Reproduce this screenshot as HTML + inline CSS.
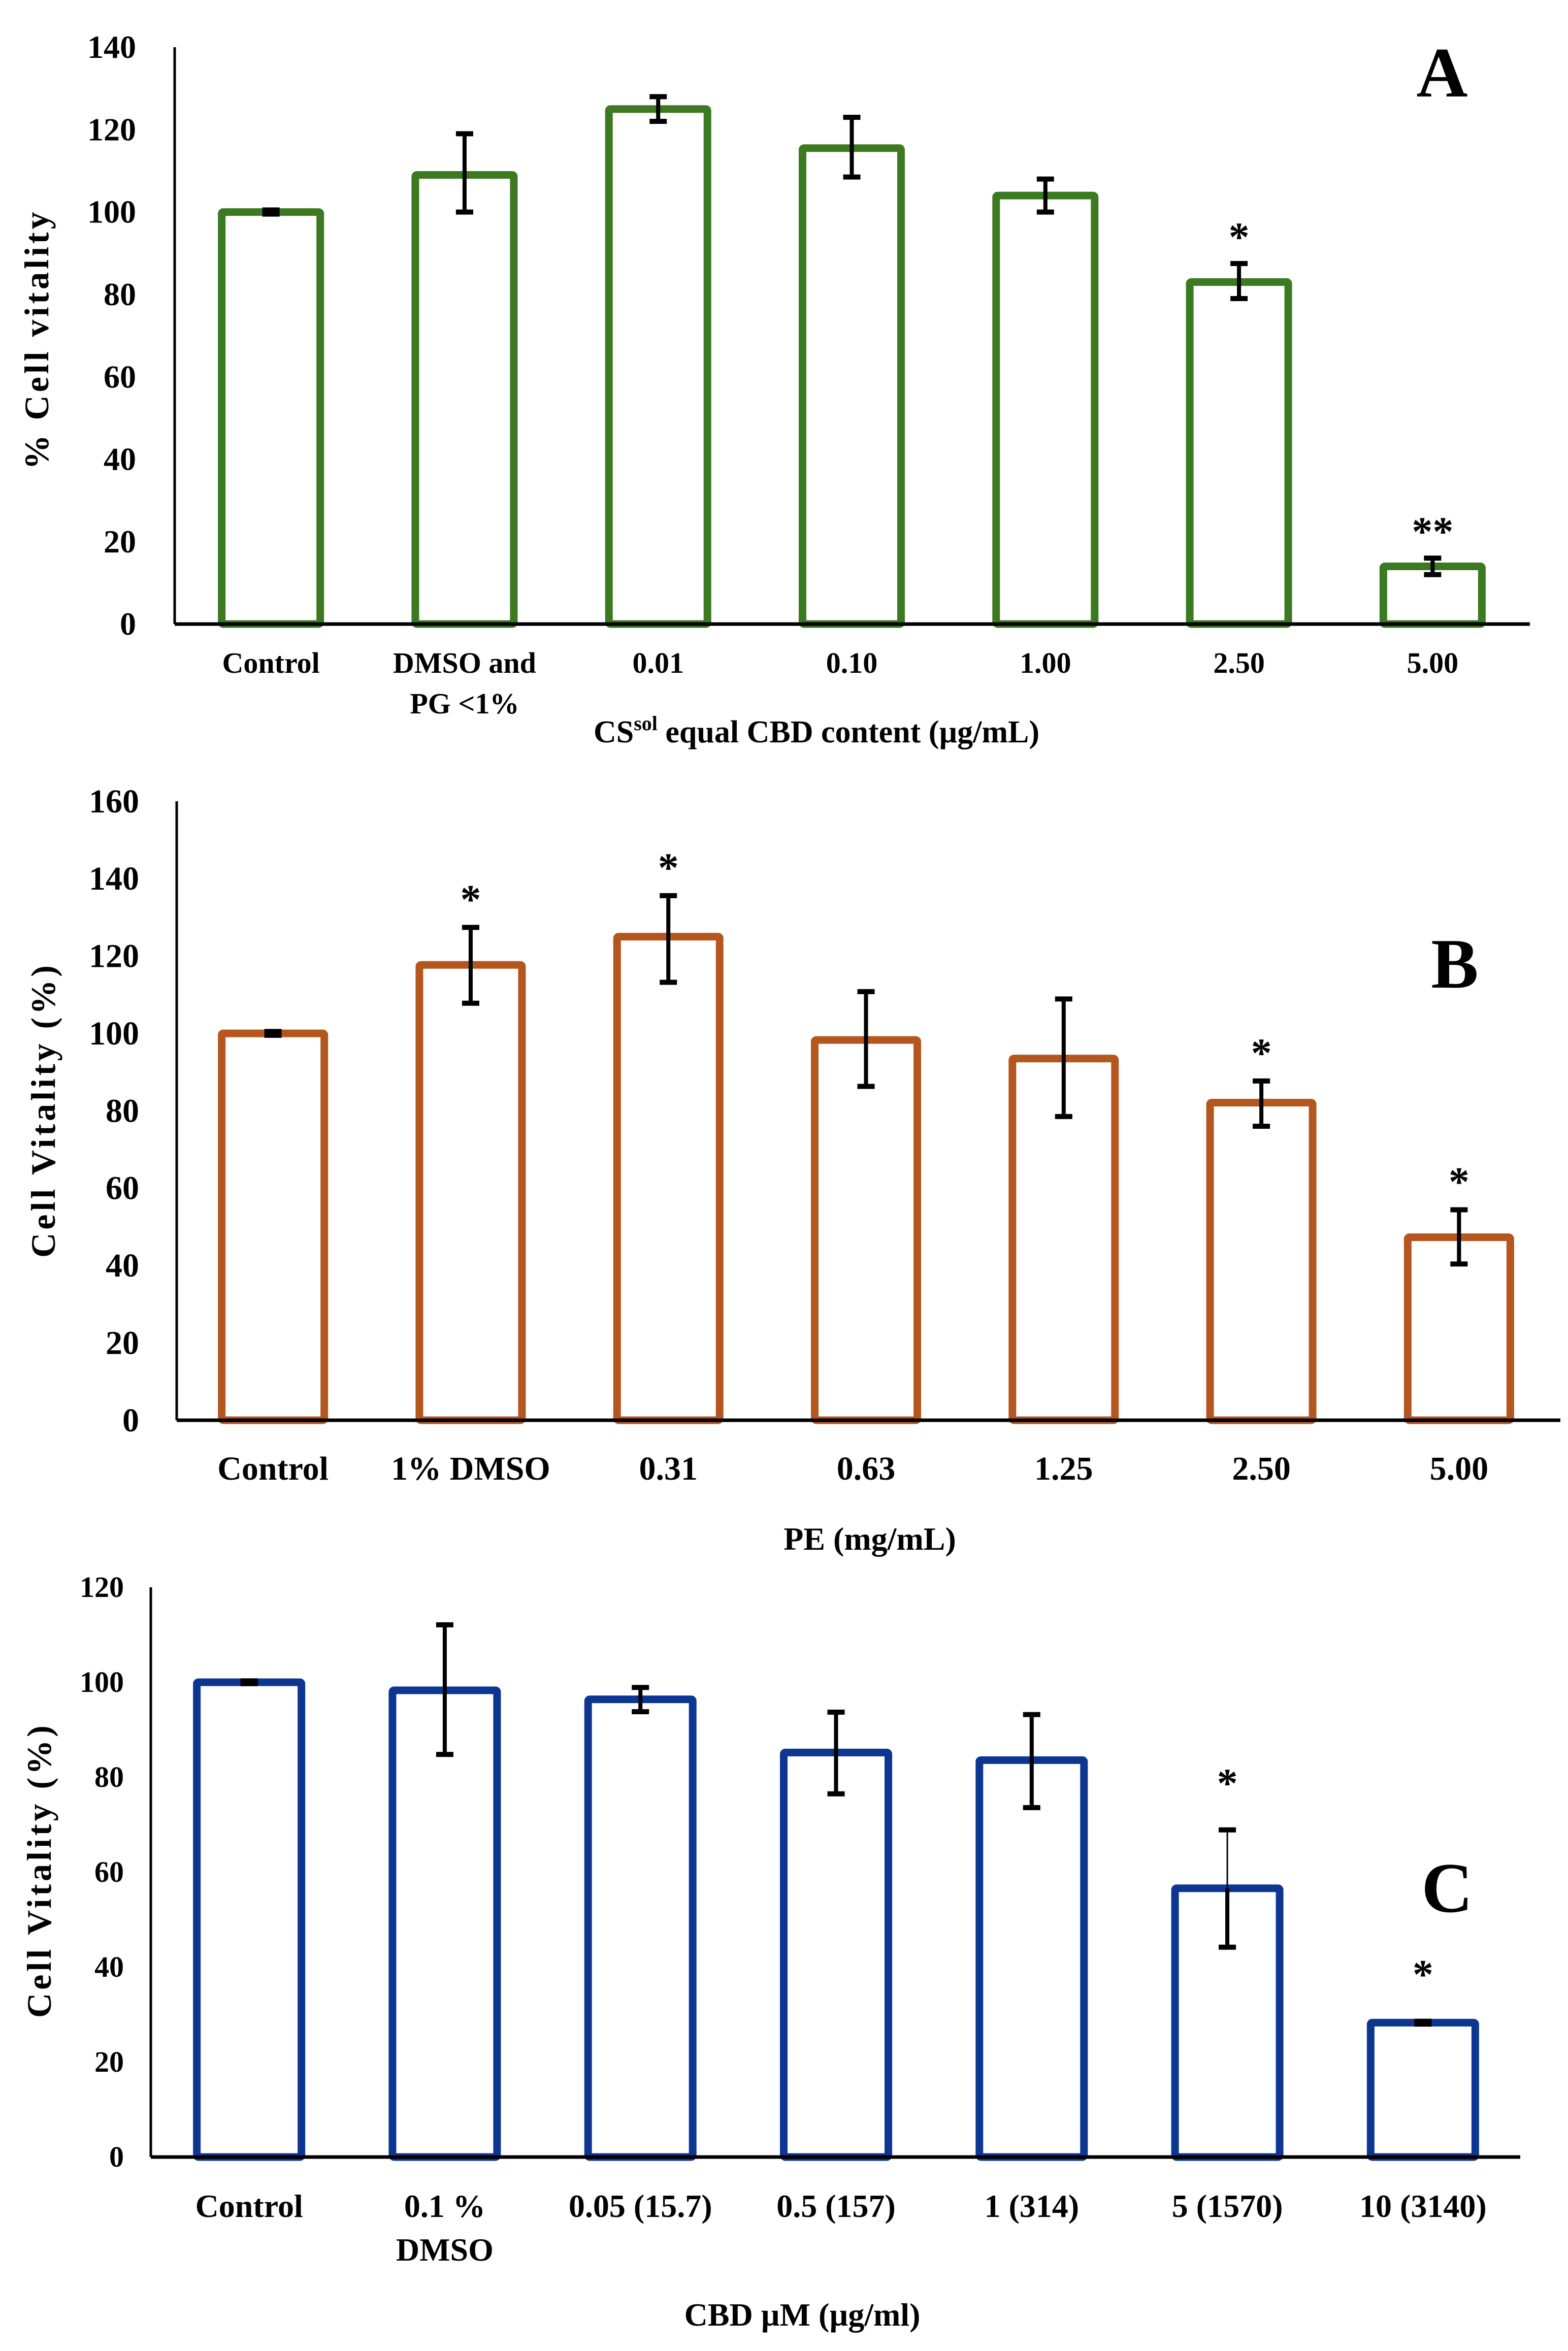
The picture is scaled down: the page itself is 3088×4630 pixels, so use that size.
<!DOCTYPE html>
<html><head><meta charset="utf-8"><style>
html,body{margin:0;padding:0;background:#fff}
svg{display:block}
text{font-family:"Liberation Serif",serif;font-weight:bold;fill:#000}
</style></head><body>
<svg id="fig" width="3088" height="4630" viewBox="0 0 3088 4630" xmlns="http://www.w3.org/2000/svg">
<rect width="3088" height="4630" fill="#fff"/>
<text x="2840" y="190" font-size="140" text-anchor="middle">A</text>
<text x="2865" y="1945" font-size="140" text-anchor="middle">B</text>
<text x="2850" y="3765" font-size="140" text-anchor="middle">C</text>
<text transform="translate(95,668) rotate(-90)" font-size="68" letter-spacing="6" text-anchor="middle">% Cell vitality</text>
<text transform="translate(108,2186) rotate(-90)" font-size="68" letter-spacing="6" text-anchor="middle">Cell Vitality  (%)</text>
<text transform="translate(100,3683) rotate(-90)" font-size="68" letter-spacing="6" text-anchor="middle">Cell Vitality  (%)</text>
<text x="1608" y="1462" font-size="62" text-anchor="middle">CS<tspan font-size="40" dy="-24">sol</tspan><tspan dy="24"> equal CBD content (µg/mL)</tspan></text>
<text x="1713" y="3052" font-size="64" text-anchor="middle">PE (mg/mL)</text>
<text x="1580" y="4580" font-size="64" text-anchor="middle">CBD µM (µg/ml)</text>
</svg>
<script>
// Panel A data
const catsA = [["Control"],["DMSO and","PG <1%"],["0.01"],["0.10"],["1.00"],["2.50"],["5.00"]];
const valsA = [100, 109, 125, 115.5, 104, 83, 14];
const hiA = [100.5, 119, 128, 123, 108, 87.5, 16];
const loA = [99.5, 100, 122, 108.5, 100, 79, 12];
const starsA = ["", "", "", "", "", "*", "**"];
const ticksA = [0, 20, 40, 60, 80, 100, 120, 140];
// Panel B data
const catsB = [["Control"],["1% DMSO"],["0.31"],["0.63"],["1.25"],["2.50"],["5.00"]];
const valsB = [100, 117.7, 125, 98.3, 93.5, 82.1, 47.3];
const hiB = [100.5, 127.4, 135.6, 110.8, 108.9, 87.7, 54.4];
const loB = [99.5, 107.8, 113.2, 86.3, 78.5, 76, 40.4];
const starsB = ["", "*", "*", "", "", "*", "*"];
const ticksB = [0, 20, 40, 60, 80, 100, 120, 140, 160];
// Panel C data
const catsC = [["Control"],["0.1 %","DMSO"],["0.05 (15.7)"],["0.5 (157)"],["1 (314)"],["5 (1570)"],["10 (3140)"]];
const valsC = [100, 98.3, 96.4, 85.2, 83.6, 56.6, 28.3];
const hiC = [100.3, 112.1, 98.9, 93.7, 93.2, 68.9, 28.6];
const loC = [99.7, 84.8, 93.8, 76.5, 73.6, 44.2, 28.0];
const starsC = ["", "", "", "", "", "*", "*"];
const ticksC = [0, 20, 40, 60, 80, 100, 120];

const NS = "http://www.w3.org/2000/svg";
const svg = document.getElementById("fig");
function mk(tag, attrs, parent) {
  const e = document.createElementNS(NS, tag);
  for (const k in attrs) e.setAttribute(k, attrs[k]);
  (parent || svg).appendChild(e);
  return e;
}

function drawPanel(p, cats, vals, hi, lo, stars, ticks, L) {
  const g = mk("g", {});
  
  
  const maxV = ticks[ticks.length - 1];
  const y = v => L.y0 - (v / maxV) * (L.y0 - L.yTop);
  const step = (L.xEnd - L.x0) / cats.length;
  const cx = i => L.x0 + step * (i + 0.5) + L.shift;
  ticks.forEach(t => {
    const tx = mk("text", {x: L.tickX, y: y(t) + L.tickFs * 0.33, "font-size": L.tickFs, "text-anchor": "end"}, g);
    tx.textContent = t;
    
    
  });
  vals.forEach((v, i) => {
    const r = mk("rect", {x: cx(i) - L.bw / 2, y: y(v), width: L.bw, height: L.y0 - y(v), fill: "#fff", stroke: L.color, "stroke-width": 15, rx: 3}, g);
    
    
  });
  const ax = mk("line", {x1: L.x0, y1: L.yTop, x2: L.x0, y2: L.y0, stroke: "#000", "stroke-width": 5}, g);
  
  
  const bx = mk("line", {x1: L.x0, y1: L.y0, x2: L.xEnd, y2: L.y0, stroke: "#000", "stroke-width": 7}, g);
  
  
  vals.forEach((v, i) => {
    const eg = mk("g", {}, g);
    
    
    const thin = (p === "c" && i === 5);
    mk("line", {x1: cx(i), y1: y(hi[i]), x2: cx(i), y2: y(lo[i]), stroke: "#000", "stroke-width": thin ? 3 : 8}, eg);
    if (thin) mk("line", {x1: cx(i), y1: y(v), x2: cx(i), y2: y(lo[i]), stroke: "#000", "stroke-width": 8}, eg);
    mk("line", {x1: cx(i) - 17, y1: y(hi[i]), x2: cx(i) + 17, y2: y(hi[i]), stroke: "#000", "stroke-width": 10}, eg);
    mk("line", {x1: cx(i) - 17, y1: y(lo[i]), x2: cx(i) + 17, y2: y(lo[i]), stroke: "#000", "stroke-width": 10}, eg);
    if (stars[i]) {
      const s = mk("text", {x: cx(i), y: y(hi[i]) - L.starGap, "font-size": 82, "text-anchor": "middle"}, g);
      s.textContent = stars[i];
      
      
    }
  });
  cats.forEach((c, i) => {
    c.forEach((line, j) => {
      const t = mk("text", {x: cx(i), y: L.catY + j * L.catLH, "font-size": L.catFs, "text-anchor": "middle"}, g);
      t.textContent = line;
      
      
    });
  });
}

drawPanel("a", catsA, valsA, hiA, loA, starsA, ticksA,
  {x0: 344, xEnd: 3013, yTop: 93, y0: 1229, shift: -1, bw: 194, color: "#3b7a21", tickX: 268, tickFs: 64, catY: 1325, catLH: 80, catFs: 58, starGap: 25});
drawPanel("b", catsB, valsB, hiB, loB, starsB, ticksB,
  {x0: 348, xEnd: 3073, yTop: 1578, y0: 2797, shift: -5, bw: 202, color: "#b5561e", tickX: 274, tickFs: 66, catY: 2914, catLH: 80, catFs: 66, starGap: 28});
drawPanel("c", catsC, valsC, hiC, loC, starsC, ticksC,
  {x0: 297, xEnd: 2994, yTop: 3126, y0: 4248, shift: 1, bw: 206, color: "#0c3692", tickX: 244, tickFs: 58, catY: 4366, catLH: 86, catFs: 64, starGap: 65});
</script>
</body></html>
